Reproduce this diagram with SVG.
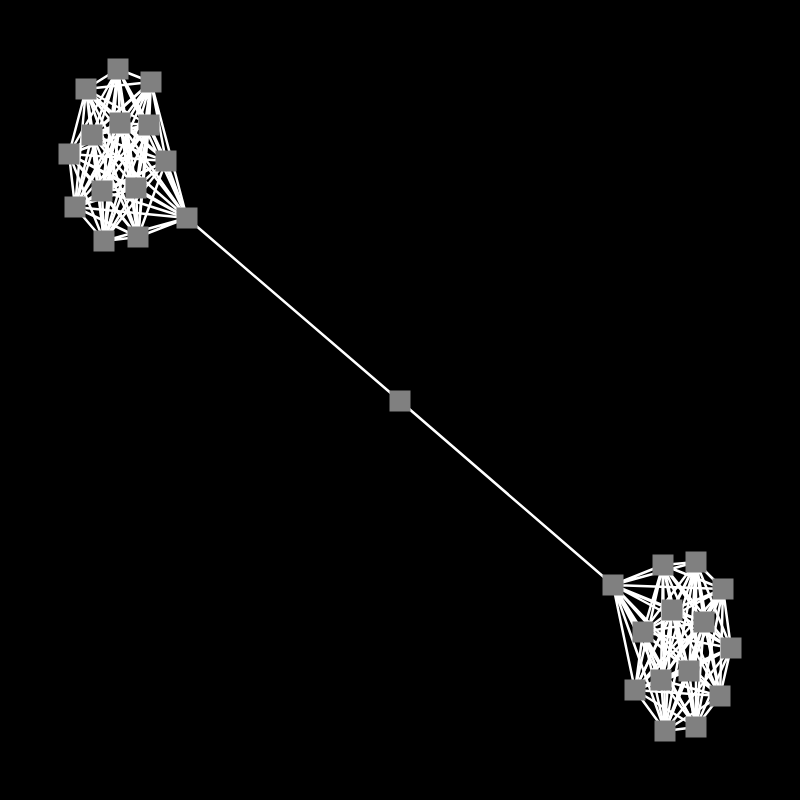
<svg xmlns="http://www.w3.org/2000/svg" width="800" height="800" viewBox="0 0 800 800">
<style>
.e{stroke:#ffffff;stroke-width:2.5;fill:none}
.n{fill:#808080}
</style>
<rect width="800" height="800" fill="#000000"/>
<g id="edges">
<path class="e" d="M118 69L151 82M118 69L86 89M118 69L120 123M118 69L149 125M118 69L92 135M118 69L69 154M118 69L166 161M118 69L102 191M118 69L136 188M118 69L75 207M118 69L187 218M118 69L104 241M118 69L138 237"/>
<path class="e" d="M151 82L86 89M151 82L120 123M151 82L149 125M151 82L92 135M151 82L69 154M151 82L166 161M151 82L102 191M151 82L136 188M151 82L75 207M151 82L187 218M151 82L104 241M151 82L138 237"/>
<path class="e" d="M86 89L120 123M86 89L149 125M86 89L92 135M86 89L69 154M86 89L166 161M86 89L102 191M86 89L136 188M86 89L75 207M86 89L187 218M86 89L104 241M86 89L138 237"/>
<path class="e" d="M120 123L149 125M120 123L92 135M120 123L69 154M120 123L166 161M120 123L102 191M120 123L136 188M120 123L75 207M120 123L187 218M120 123L104 241M120 123L138 237"/>
<path class="e" d="M149 125L92 135M149 125L69 154M149 125L166 161M149 125L102 191M149 125L136 188M149 125L75 207M149 125L187 218M149 125L104 241M149 125L138 237"/>
<path class="e" d="M92 135L69 154M92 135L166 161M92 135L102 191M92 135L136 188M92 135L75 207M92 135L187 218M92 135L104 241M92 135L138 237"/>
<path class="e" d="M69 154L166 161M69 154L102 191M69 154L136 188M69 154L75 207M69 154L187 218M69 154L104 241M69 154L138 237"/>
<path class="e" d="M166 161L102 191M166 161L136 188M166 161L75 207M166 161L187 218M166 161L104 241M166 161L138 237"/>
<path class="e" d="M102 191L136 188M102 191L75 207M102 191L187 218M102 191L104 241M102 191L138 237"/>
<path class="e" d="M136 188L75 207M136 188L187 218M136 188L104 241M136 188L138 237"/>
<path class="e" d="M75 207L187 218M75 207L104 241M75 207L138 237"/>
<path class="e" d="M187 218L104 241M187 218L138 237M104 241L138 237"/>
<path class="e" d="M187 218L400 401M400 401L613 585"/>
<path class="e" d="M613 585L663 565M613 585L696 562M613 585L723 589M613 585L672 610M613 585L704 622M613 585L643 632M613 585L731 648M613 585L689 671M613 585L661 680M613 585L635 690M613 585L720 696M613 585L665 731M613 585L696 727"/>
<path class="e" d="M663 565L696 562M663 565L723 589M663 565L672 610M663 565L704 622M663 565L643 632M663 565L731 648M663 565L689 671M663 565L661 680M663 565L635 690M663 565L720 696M663 565L665 731M663 565L696 727"/>
<path class="e" d="M696 562L723 589M696 562L672 610M696 562L704 622M696 562L643 632M696 562L731 648M696 562L689 671M696 562L661 680M696 562L635 690M696 562L720 696M696 562L665 731M696 562L696 727"/>
<path class="e" d="M723 589L672 610M723 589L704 622M723 589L643 632M723 589L731 648M723 589L689 671M723 589L661 680M723 589L635 690M723 589L720 696M723 589L665 731M723 589L696 727"/>
<path class="e" d="M672 610L704 622M672 610L643 632M672 610L731 648M672 610L689 671M672 610L661 680M672 610L635 690M672 610L720 696M672 610L665 731M672 610L696 727"/>
<path class="e" d="M704 622L643 632M704 622L731 648M704 622L689 671M704 622L661 680M704 622L635 690M704 622L720 696M704 622L665 731M704 622L696 727"/>
<path class="e" d="M643 632L731 648M643 632L689 671M643 632L661 680M643 632L635 690M643 632L720 696M643 632L665 731M643 632L696 727"/>
<path class="e" d="M731 648L689 671M731 648L661 680M731 648L635 690M731 648L720 696M731 648L665 731M731 648L696 727"/>
<path class="e" d="M689 671L661 680M689 671L635 690M689 671L720 696M689 671L665 731M689 671L696 727"/>
<path class="e" d="M661 680L635 690M661 680L720 696M661 680L665 731M661 680L696 727"/>
<path class="e" d="M635 690L720 696M635 690L665 731M635 690L696 727"/>
<path class="e" d="M720 696L665 731M720 696L696 727M665 731L696 727"/>
</g>
<g id="nodes">
<rect id="a0" class="n" x="107.5" y="58.5" width="21" height="21"/>
<rect id="a1" class="n" x="140.5" y="71.5" width="21" height="21"/>
<rect id="a2" class="n" x="75.5" y="78.5" width="21" height="21"/>
<rect id="a3" class="n" x="109.5" y="112.5" width="21" height="21"/>
<rect id="a4" class="n" x="138.5" y="114.5" width="21" height="21"/>
<rect id="a5" class="n" x="81.5" y="124.5" width="21" height="21"/>
<rect id="a6" class="n" x="58.5" y="143.5" width="21" height="21"/>
<rect id="a7" class="n" x="155.5" y="150.5" width="21" height="21"/>
<rect id="a8" class="n" x="91.5" y="180.5" width="21" height="21"/>
<rect id="a9" class="n" x="125.5" y="177.5" width="21" height="21"/>
<rect id="a10" class="n" x="64.5" y="196.5" width="21" height="21"/>
<rect id="a11" class="n" x="176.5" y="207.5" width="21" height="21"/>
<rect id="a12" class="n" x="93.5" y="230.5" width="21" height="21"/>
<rect id="a13" class="n" x="127.5" y="226.5" width="21" height="21"/>
<rect id="mid" class="n" x="389.5" y="390.5" width="21" height="21"/>
<rect id="b0" class="n" x="602.5" y="574.5" width="21" height="21"/>
<rect id="b1" class="n" x="652.5" y="554.5" width="21" height="21"/>
<rect id="b2" class="n" x="685.5" y="551.5" width="21" height="21"/>
<rect id="b3" class="n" x="712.5" y="578.5" width="21" height="21"/>
<rect id="b4" class="n" x="661.5" y="599.5" width="21" height="21"/>
<rect id="b5" class="n" x="693.5" y="611.5" width="21" height="21"/>
<rect id="b6" class="n" x="632.5" y="621.5" width="21" height="21"/>
<rect id="b7" class="n" x="720.5" y="637.5" width="21" height="21"/>
<rect id="b8" class="n" x="678.5" y="660.5" width="21" height="21"/>
<rect id="b9" class="n" x="650.5" y="669.5" width="21" height="21"/>
<rect id="b10" class="n" x="624.5" y="679.5" width="21" height="21"/>
<rect id="b11" class="n" x="709.5" y="685.5" width="21" height="21"/>
<rect id="b12" class="n" x="654.5" y="720.5" width="21" height="21"/>
<rect id="b13" class="n" x="685.5" y="716.5" width="21" height="21"/>
</g>
</svg>
